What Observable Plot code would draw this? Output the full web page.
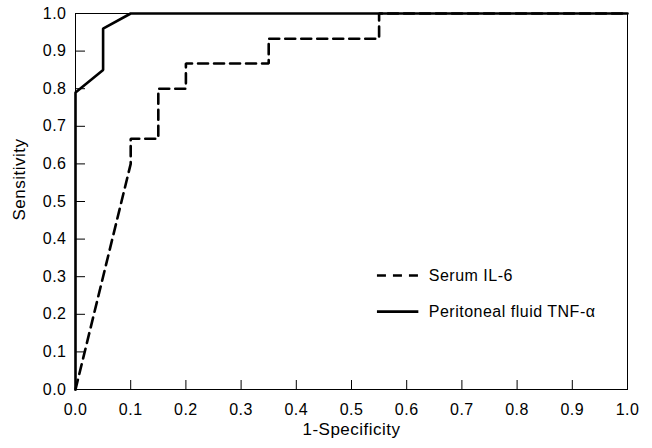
<!DOCTYPE html>
<html>
<head>
<meta charset="utf-8">
<script src="https://cdn.jsdelivr.net/npm/d3@7"></script>
<script src="https://cdn.jsdelivr.net/npm/@observablehq/plot@0.6"></script>
<style>
  html, body { margin: 0; padding: 0; background: #fff; }
  svg text { letter-spacing: 0.5px; }
</style>
</head>
<body>
<div id="chart"></div>
<script>
// Serum IL-6 ROC curve (1-specificity, sensitivity)
const il6X = [0, 0.1, 0.1, 0.15, 0.15, 0.2, 0.2, 0.35, 0.35, 0.55, 0.55, 1.0];
const il6Y = [0, 0.6, 0.667, 0.667, 0.8, 0.8, 0.867, 0.867, 0.933, 0.933, 1.0, 1.0];
// Peritoneal fluid TNF-α ROC curve
const tnfX = [0, 0, 0.05, 0.05, 0.1, 1.0];
const tnfY = [0, 0.79, 0.85, 0.96, 1.0, 1.0];
const ticks = [0, 0.1, 0.2, 0.3, 0.4, 0.5, 0.6, 0.7, 0.8, 0.9, 1.0];
const seriesNames = ["Serum IL-6", "Peritoneal fluid TNF-\u03b1"];
const xTitle = "1-Specificity";
const yTitle = "Sensitivity";

const il6 = il6X.map((x, i) => ({x, y: il6Y[i]}));
const tnf = tnfX.map((x, i) => ({x, y: tnfY[i]}));

// legend layout (in data units, inside the frame)
const legX1 = 0.547, legX2 = 0.622, legTX = 0.640;
const legY = [0.303, 0.207];
const legend = seriesNames.map((name, i) => ({name, y: legY[i]}));

const fmt = d3.format(".1f");
const font = "'Liberation Sans', Arial, Helvetica, sans-serif";

const chart = Plot.plot({
  width: 652,
  height: 448,
  marginLeft: 75,
  marginRight: 25,
  marginTop: 13,
  marginBottom: 59,
  style: {fontFamily: font, fontSize: "16px", color: "#000", background: "#fff"},
  x: {domain: [0, 1]},
  y: {domain: [0, 1]},
  marks: [
    Plot.frame({stroke: "#000", strokeWidth: 1}),
    // inward ticks
    Plot.axisX(ticks, {tickSize: -9, tickFormat: () => "", label: null, strokeWidth: 1}),
    Plot.axisY(ticks, {tickSize: -10, tickFormat: () => "", label: null, strokeWidth: 1}),
    // tick labels
    Plot.axisX(ticks, {tickSize: 0, tickPadding: 14, tickFormat: fmt, fontSize: 16, label: null}),
    Plot.axisY(ticks, {tickSize: 0, tickPadding: 9, tickFormat: fmt, fontSize: 16, label: null}),
    // axis titles
    Plot.text([xTitle], {frameAnchor: "bottom", dy: 45, text: d => d, fontSize: 17, fill: "#000"}),
    Plot.text([yTitle], {frameAnchor: "left", rotate: -90, dx: -56, dy: 19, text: d => d, fontSize: 17, fill: "#000"}),
    // curves
    Plot.line(il6, {x: "x", y: "y", stroke: "#000", strokeWidth: 2.6, strokeDasharray: "10,6", strokeLinejoin: "miter"}),
    Plot.line(tnf, {x: "x", y: "y", stroke: "#000", strokeWidth: 2.6, strokeLinejoin: "miter"}),
    // legend
    Plot.ruleY([legend[0]], {y: "y", x1: legX1, x2: legX2, stroke: "#000", strokeWidth: 2.6, strokeDasharray: "9,7"}),
    Plot.ruleY([legend[1]], {y: "y", x1: legX1, x2: legX2, stroke: "#000", strokeWidth: 2.6}),
    Plot.text(legend, {x: legTX, y: "y", text: "name", textAnchor: "start", fontSize: 16, fill: "#000"})
  ]
});
document.getElementById("chart").appendChild(chart);
</script>
</body>
</html>
